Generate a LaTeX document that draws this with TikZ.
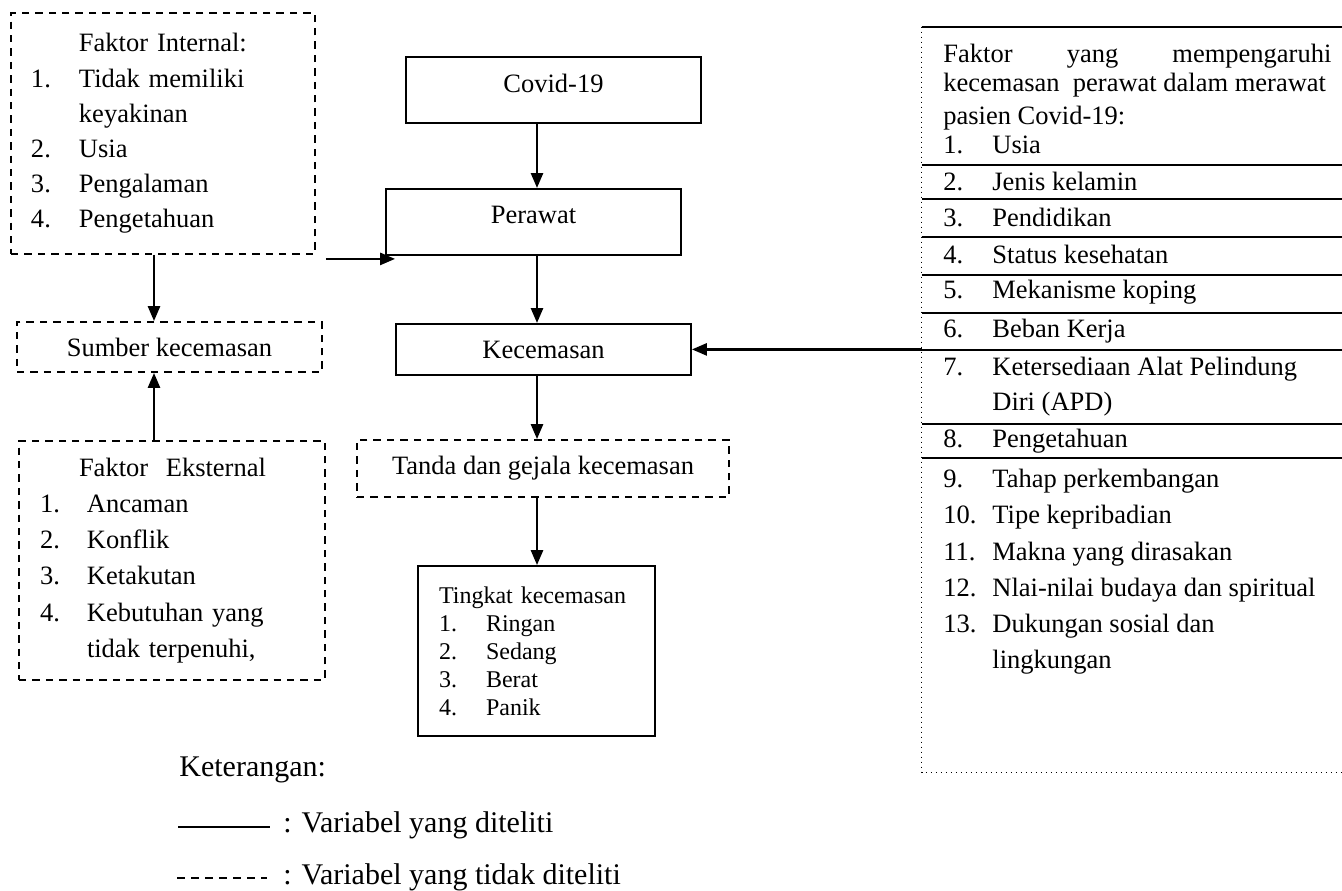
\documentclass[tikz,border=0pt]{standalone}
\usepackage{fontspec}
\setmainfont{Liberation Serif}
\usetikzlibrary{arrows.meta,calc}

\newcommand{\nomor}[2]{\makebox[#1][l]{#2}}

\tikzset{
  box/.style={draw, line width=0.9pt, font=\fontsize{13.25}{16}\selectfont},
  dbox/.style={box, dash pattern=on 3.7pt off 3pt},
  lst/.style={align=left, font=\fontsize{13.25}{17.6}\selectfont},
  arr/.style={line width=1.3pt, -{Triangle[length=7.5pt,width=6pt]}},
  txt/.style={inner sep=0pt, anchor=base west, font=\fontsize{13.25}{16}\selectfont},
  ket/.style={txt, font=\fontsize{15}{18}\selectfont},
}

\begin{document}
\begin{tikzpicture}[x=0.5pt,y=-0.5pt]
	\useasboundingbox (0,0) rectangle (1342,890);
	\coordinate (axis) at (537,0);
	
	\node[box, anchor=north, minimum width=147.5pt, text height=18pt, text depth=15pt, inner ysep=0pt] (covid) at (553.5,56) {Covid-19};
	\node[box, anchor=north, minimum width=147.5pt, text height=17.5pt, text depth=15.5pt, inner ysep=0pt] (perawat) at (533.5,188) {Perawat};
	\node[box, anchor=north, minimum width=147.5pt, text height=17.5pt, text depth=8pt, inner ysep=0pt] (kecemasan) at (543.5,323) {Kecemasan};
	\node[dbox, minimum width=186pt, minimum height=28.5pt] (tanda) at (543,468.5) {Tanda dan gejala kecemasan};
	\node[box, lst, font=\fontsize{12}{14}\selectfont, text width=97.5pt, inner xsep=10.5pt, minimum height=85pt] (tingkat) at (536.5,651) {Tingkat kecemasan\\ \nomor{23.5pt}{1.}Ringan\\ \nomor{23.5pt}{2.}Sedang\\ \nomor{23.5pt}{3.}Berat\\ \nomor{23.5pt}{4.}Panik};
	
	\node[dbox, lst, text width=132pt, inner xsep=10pt, minimum height=120.5pt] (internal) at (163,133.5) {\hspace*{24pt}Faktor Internal:\\ \nomor{24pt}{1.}Tidak memiliki\\ \hspace*{24pt}keyakinan\\ \nomor{24pt}{2.}Usia\\ \nomor{24pt}{3.}Pengalaman\\ \nomor{24pt}{4.}Pengetahuan};
	\node[dbox, minimum width=152.5pt, minimum height=25pt] (sumber) at (169.5,347) {Sumber kecemasan};
	\node[dbox, lst, font=\fontsize{13.25}{18.1}\selectfont, text width=132pt, inner xsep=10.5pt, minimum height=119.5pt] (eksternal) at (172,560.5) {\hspace*{19.5pt}Faktor\ \ Eksternal\\ \nomor{23.5pt}{1.}Ancaman\\ \nomor{23.5pt}{2.}Konflik\\ \nomor{23.5pt}{3.}Ketakutan\\ \nomor{23.5pt}{4.}Kebutuhan yang\\ \hspace*{23.5pt}tidak terpenuhi,};
	
	\node[minimum width=210pt, minimum height=372.5pt, inner sep=0pt] (faktor) at (1132,399.5) {};
	\draw[line width=1pt] (faktor.north west) -- (faktor.north east);
	\draw[dotted, line width=0.5pt] (faktor.north west) -- (faktor.south west) -- (faktor.south east);
	\foreach \y in {165,199,237,275,313,350,424,458}
		\draw[line width=0.9pt] (faktor.west |- 0,\y) -- (faktor.east |- 0,\y);
	
	\node[txt] (judul1) at (943,62.7) {\hbox to 194pt{Faktor\hfill yang\hfill mempengaruhi}};
	\node[txt] (judul2) at (943,91.7) {kecemasan\ \ perawat dalam merawat};
	\node[txt] (judul3) at (943,124) {pasien Covid-19:};
	\foreach \i/\y/\t in {1/153/Usia, 2/190/Jenis kelamin, 3/226/Pendidikan, 4/263/Status kesehatan, 5/298/Mekanisme koping, 6/337/Beban Kerja, 7/375/Ketersediaan Alat Pelindung, 8/447/Pengetahuan, 9/487/Tahap perkembangan, 10/523/Tipe kepribadian, 11/560/Makna yang dirasakan, 12/596/Nlai-nilai budaya dan spiritual, 13/632/Dukungan sosial dan}
	{
		\node[txt] (no\i) at (943,\y) {\i.};
		\node[txt] (item\i) at (992,\y) {\t};
	}
	\node[txt] (item7b) at (992,410) {Diri (APD)};
	\node[txt] (item13b) at (992,668) {lingkungan};
	
	\draw[arr] (covid.south -| axis) -- (perawat.north -| axis);
	\draw[arr] (perawat.south -| axis) -- (kecemasan.north -| axis);
	\draw[arr] (kecemasan.south -| axis) -- (tanda.north -| axis);
	\draw[arr] (tanda.south -| axis) -- (tingkat.north -| axis);
	\draw[arr] (faktor.west |- kecemasan.east) -- (kecemasan.east);
	\coordinate (awal) at ([xshift=5pt,yshift=-2pt]internal.south east);
	\draw[arr] (awal) -- ([xshift=5pt]awal -| perawat.west);
	\draw[arr] ([xshift=-4.5pt]internal.south) -- ([xshift=-4.5pt]internal.south |- sumber.north);
	\draw[arr] ([xshift=-9pt]eksternal.north) -- ([xshift=-9pt]eksternal.north |- sumber.south);
	
	\node[ket] (keterangan) at (179,776) {Keterangan:};
	\coordinate (garis1a) at (178,827);
	\coordinate (garis1b) at (270,827);
	\draw[line width=0.7pt] (garis1a) -- (garis1b);
	\node[ket] (ket1) at (283,832) {: Variabel yang diteliti};
	\coordinate (garis2a) at (177,878);
	\coordinate (garis2b) at (267,878);
	\draw[line width=0.6pt, dash pattern=on 4pt off 3pt] (garis2a) -- (garis2b);
	\node[ket] (ket2) at (283,884) {: Variabel yang tidak diteliti};
\end{tikzpicture}
\end{document}
